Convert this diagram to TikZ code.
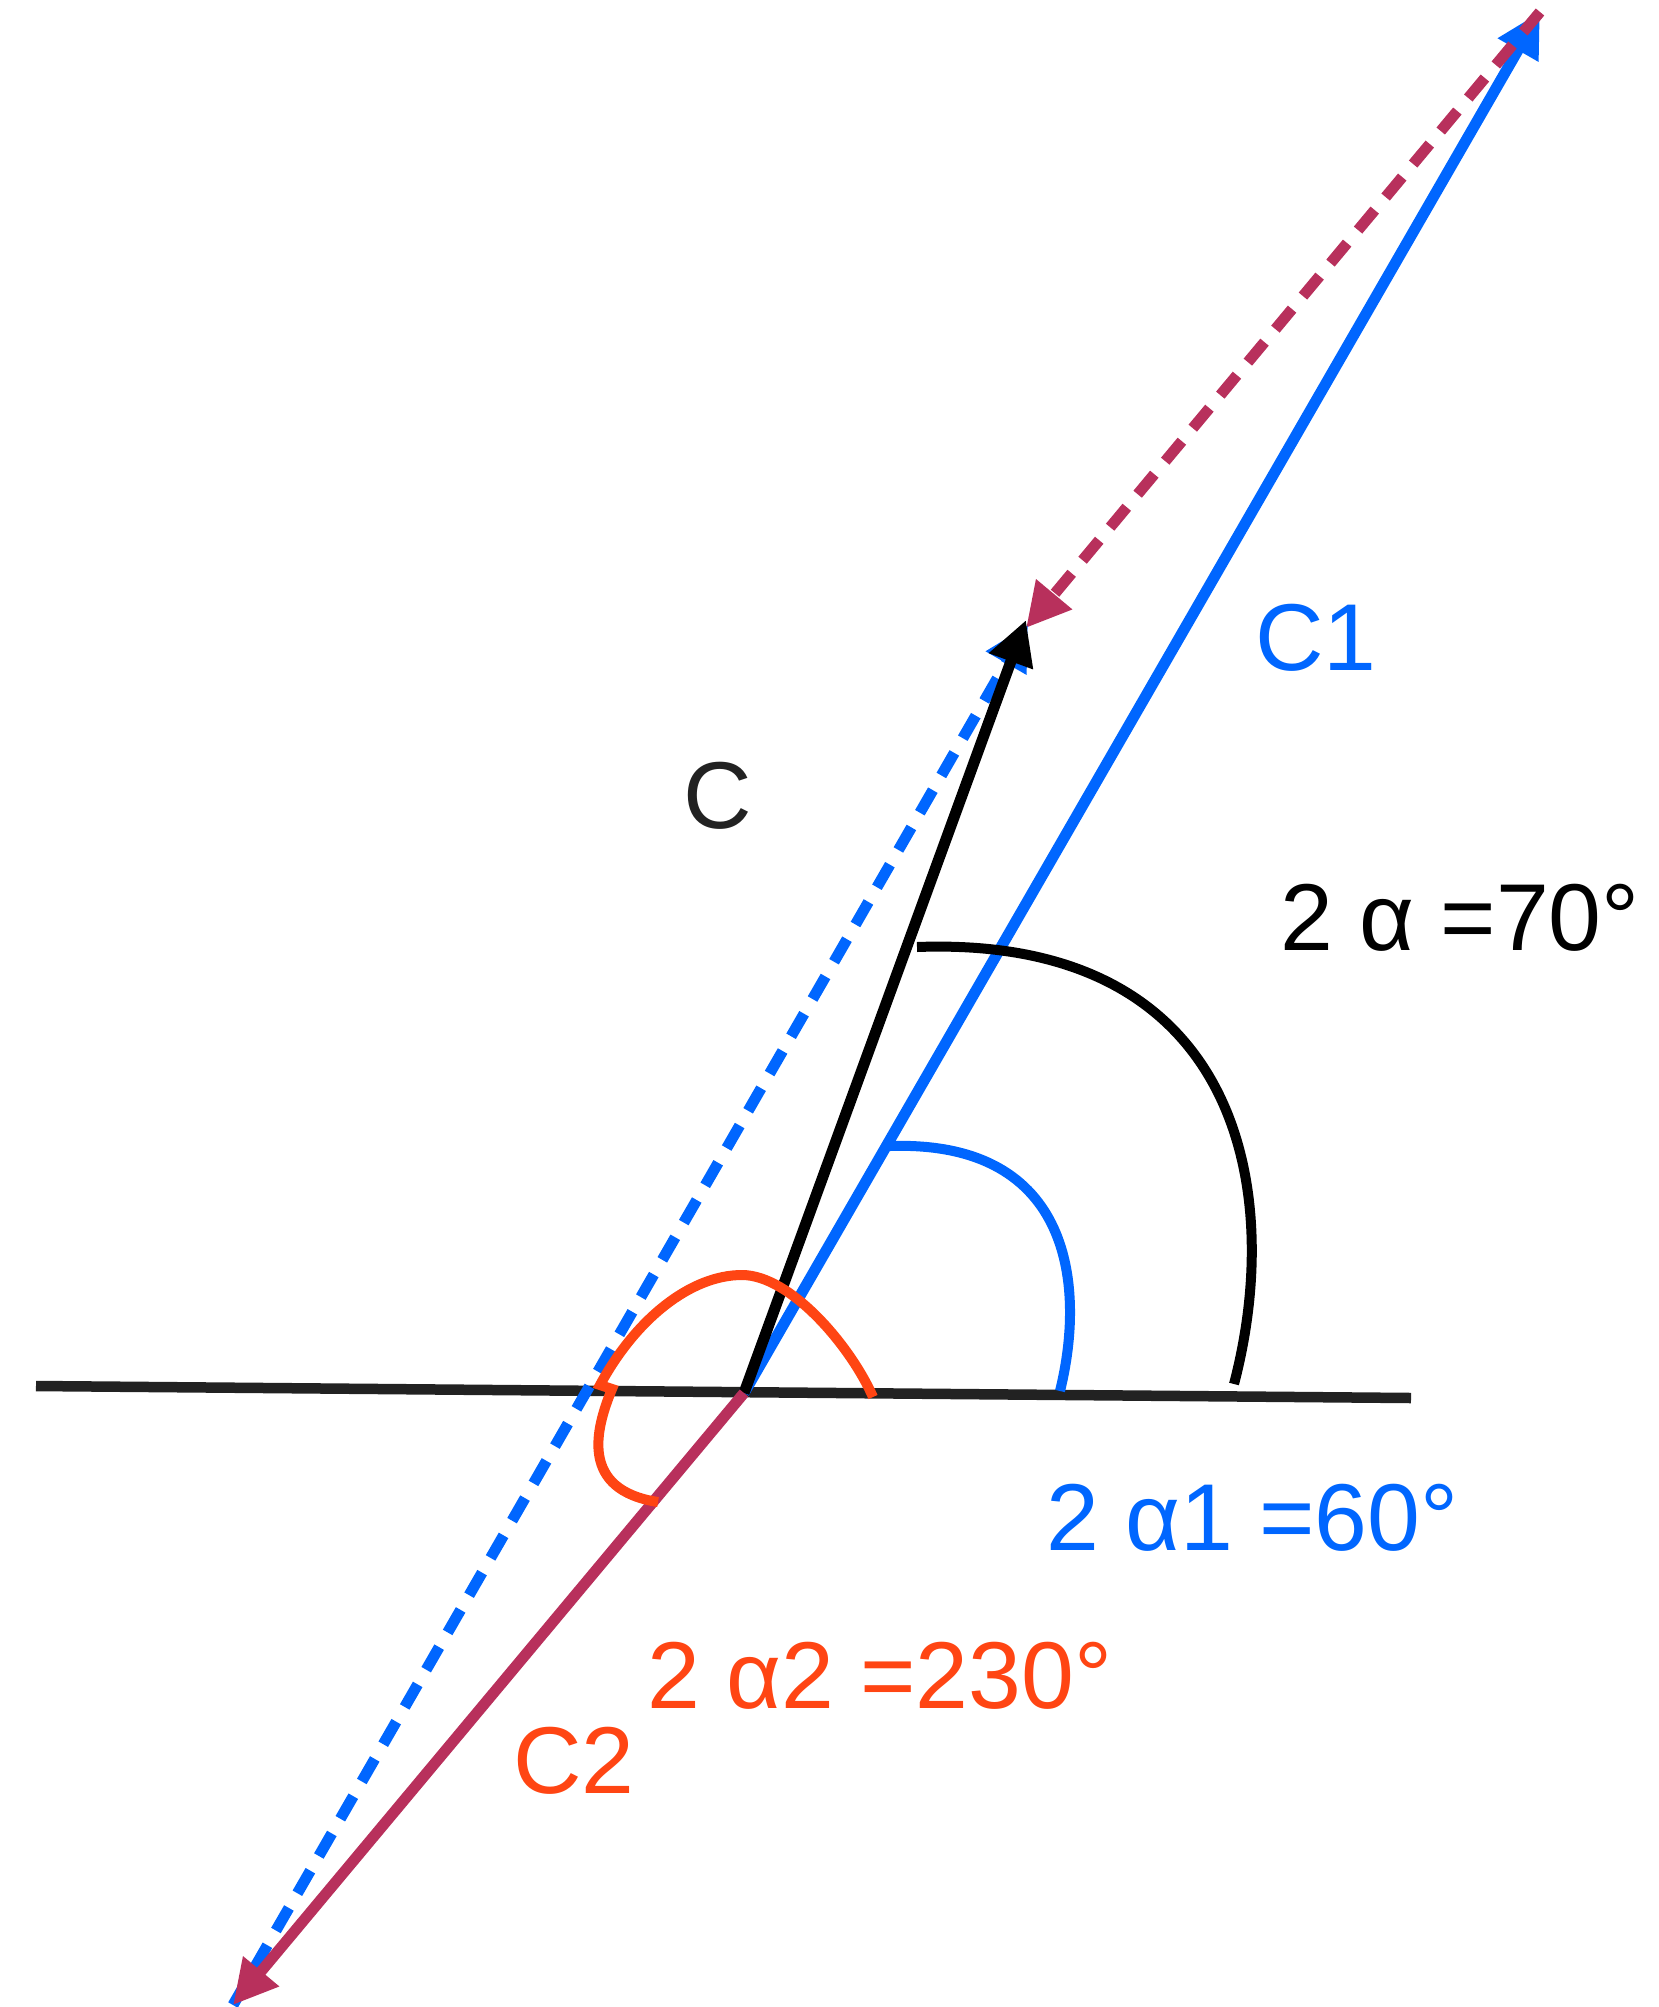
\documentclass[tikz,border=0pt]{standalone}
\usepackage{fontspec}
\setmainfont{Liberation Sans}
\usetikzlibrary{arrows.meta}
\definecolor{cblue}{HTML}{0066FF}
\definecolor{cmaroon}{HTML}{B8305C}
\definecolor{cred}{HTML}{FF4513}
\definecolor{cdark}{HTML}{222222}
\begin{document}
\begin{tikzpicture}[x=1pt,y=-1pt,
  vec/.style={line width=11pt},
  tipped/.style={-{Triangle[length=44pt,width=44pt]}},
  dashline/.style={line width=11pt, dash pattern=on 26pt off 17pt},
  arcline/.style={line width=10pt},
  lbl/.style={inner sep=0pt, anchor=base west, font=\fontsize{95pt}{110pt}\selectfont}]
\useasboundingbox (0,0) rectangle (1659,2007);
\coordinate (O) at (744,1393);
\coordinate (L) at (36,1386);
\coordinate (R) at (1411,1398);
\coordinate (C1tip) at (1540,12);
\coordinate (Ctip) at (1026,620);
\coordinate (Cm) at (1026,628);
\coordinate (Cb) at (1028,625);
\coordinate (C2tip) at (233,2005);
% base line
\draw[line width=10.5pt, cdark] (L) -- (R);
% vectors
\draw[vec, tipped, cblue] (O) -- (C1tip);
\draw[dashline, tipped, cmaroon] (C1tip) -- (Cm);
\draw[dashline, tipped, cblue] (C2tip) -- (Cb);
\draw[vec, tipped, black] (O) -- (Ctip);
\draw[vec, tipped, cmaroon] (O) -- (C2tip);
% angle arcs
\draw[arcline, black] (1234,1384) .. controls (1285,1190) and (1240,935) .. (917,947);
\draw[arcline, cblue] (1060,1391) .. controls (1085,1290) and (1075,1140) .. (890,1146);
\draw[arcline, cred] (873,1397) .. controls (850,1345) and (790,1275) .. (742,1275)
  .. controls (690,1275) and (635,1320) .. (600,1385) -- (612,1389)
  .. controls (595,1430) and (580,1490) .. (658,1502);
% labels
\node[lbl, text=cblue] (tC1) at (1255,670) {C1};
\node[lbl, text=cdark] (tC) at (683,828) {C};
\node[lbl, text=black] (ta) at (1280,950) {2 α =70°};
\node[lbl, text=cblue] (ta1) at (1046,1550) {2 α1 =60°};
\node[lbl, text=cred] (ta2) at (647,1708) {2 α2 =230°};
\node[lbl, text=cred] (tC2) at (513,1793) {C2};
\end{tikzpicture}
\end{document}
